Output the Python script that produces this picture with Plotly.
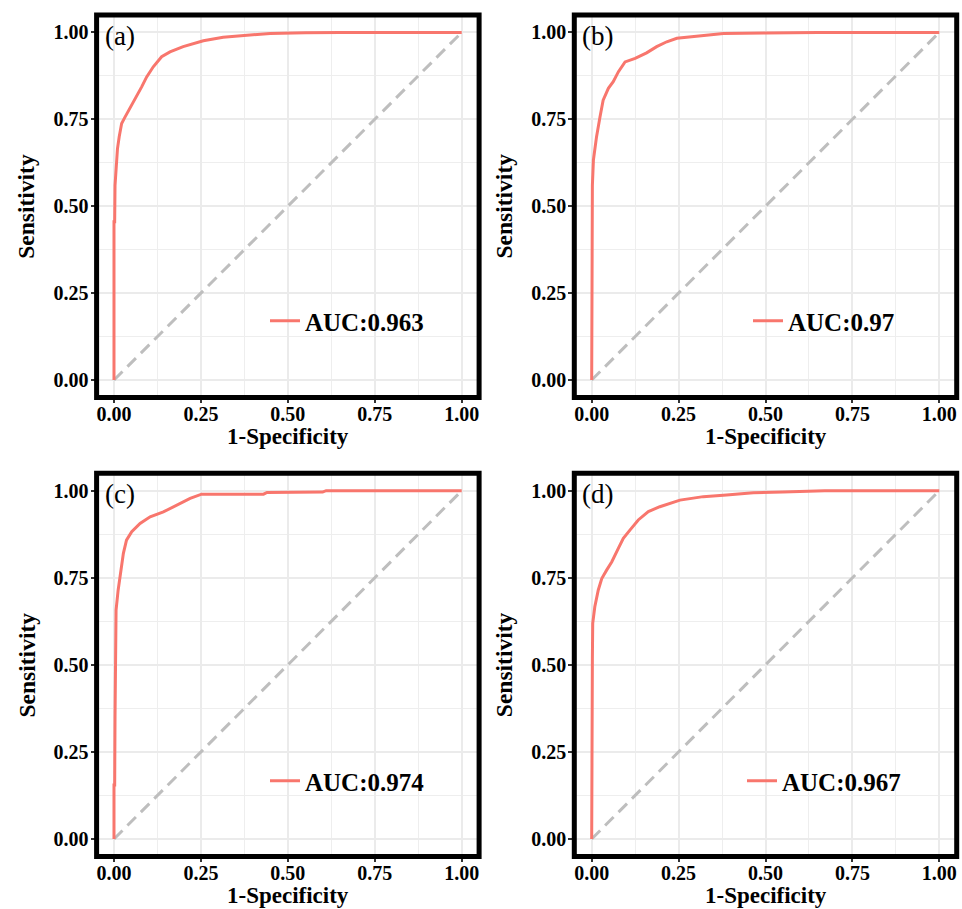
import plotly.graph_objects as go

W, H = 962, 909

panel_labels = ["(a)", "(b)", "(c)", "(d)"]
auc_labels = ["AUC:0.963", "AUC:0.97", "AUC:0.974", "AUC:0.967"]

# ROC curves (x = 1-Specificity, y = Sensitivity)
fpr_a = [0, 0, 0.002, 0.003, 0.006, 0.010, 0.015, 0.022, 0.032, 0.045, 0.056, 0.068, 0.080, 0.094, 0.113,
         0.137, 0.161, 0.199, 0.257, 0.314, 0.372, 0.449, 0.55, 0.65, 1.0]
tpr_a = [0, 0.455, 0.455, 0.56, 0.62, 0.665, 0.700, 0.738, 0.757, 0.780, 0.800, 0.822, 0.844, 0.872, 0.901,
         0.930, 0.944, 0.959, 0.976, 0.986, 0.991, 0.997, 0.999, 1.0, 1.0]

fpr_b = [0, 0, 0.002, 0.005, 0.014, 0.024, 0.033, 0.048, 0.062, 0.077, 0.096, 0.125, 0.158, 0.187,
         0.216, 0.245, 0.283, 0.340, 0.379, 0.50, 0.65, 1.0]
tpr_b = [0, 0.50, 0.56, 0.633, 0.700, 0.757, 0.805, 0.839, 0.858, 0.887, 0.915, 0.925, 0.941, 0.959,
         0.973, 0.983, 0.987, 0.992, 0.997, 0.998, 1.0, 1.0]

fpr_c = [0, 0, 0.002, 0.003, 0.004, 0.006, 0.012, 0.019, 0.027, 0.036, 0.051, 0.075, 0.104, 0.142,
         0.180, 0.219, 0.252, 0.43, 0.44, 0.60, 0.61, 1.0]
tpr_c = [0, 0.155, 0.155, 0.35, 0.50, 0.657, 0.715, 0.772, 0.820, 0.858, 0.882, 0.906, 0.925, 0.939,
         0.959, 0.978, 0.990, 0.990, 0.995, 0.996, 1.0, 1.0]

fpr_d = [0, 0, 0.002, 0.003, 0.009, 0.019, 0.029, 0.043, 0.058, 0.077, 0.091, 0.110, 0.134, 0.163,
         0.196, 0.254, 0.321, 0.388, 0.465, 0.55, 0.67, 1.0]
tpr_d = [0, 0.47, 0.52, 0.619, 0.667, 0.715, 0.748, 0.772, 0.796, 0.835, 0.863, 0.887, 0.916, 0.940,
         0.954, 0.973, 0.983, 0.988, 0.994, 0.996, 1.0, 1.0]

curves = [(fpr_a, tpr_a), (fpr_b, tpr_b), (fpr_c, tpr_c), (fpr_d, tpr_d)]
diag = [0, 1]
tick_vals = [0, 0.25, 0.5, 0.75, 1.0]
tick_text = ["0.00", "0.25", "0.50", "0.75", "1.00"]

# pixel geometry of the four panels
px_x = [(96.6, 479.1), (574.3, 956.7), (96.6, 479.1), (574.3, 956.7)]
px_y = [(15.0, 397.4), (15.0, 397.4), (473.3, 856.4), (473.3, 856.4)]
legend_px = [(265, 321), (748, 321), (265, 781), (742, 781)]

RED = "#F8766D"
FONT = "Liberation Serif"

fig = go.Figure()
layout = dict(width=W, height=H, margin=dict(l=0, r=0, t=0, b=0),
              paper_bgcolor="white", plot_bgcolor="white", showlegend=True,
              shapes=[], annotations=[])

def fx_(p):
    return p / W

def fy_(p):
    return 1 - p / H

for i in range(4):
    sfx = "" if i == 0 else str(i + 1)
    xa, ya = "x" + sfx, "y" + sfx
    lg = "legend" + sfx
    cxv, cyv = curves[i]
    fig.add_trace(go.Scatter(x=diag, y=diag, mode="lines", xaxis=xa, yaxis=ya,
                             line=dict(color="#BEBEBE", width=3, dash="12px,7px"),
                             showlegend=False, hoverinfo="skip"))
    fig.add_trace(go.Scatter(x=cxv, y=cyv, mode="lines", xaxis=xa, yaxis=ya,
                             line=dict(color=RED, width=3), name=auc_labels[i],
                             legend=lg, showlegend=True))
    x0, x1 = px_x[i]
    y0, y1 = px_y[i]
    axis_common = dict(range=[-0.05, 1.05], tickvals=tick_vals, ticktext=tick_text,
                       showgrid=True, gridcolor="#EBEBEB", gridwidth=1.5,
                       minor=dict(showgrid=True, gridcolor="#EEEEEE", gridwidth=0.9,
                                  tickvals=[0.125, 0.375, 0.625, 0.875]),
                       zeroline=False, ticks="outside", ticklen=5, tickwidth=1.5,
                       tickcolor="#333333", showline=False, automargin=False,
                       tickfont=dict(family=FONT, size=20, color="black", weight="bold"))
    layout["xaxis" + sfx] = dict(axis_common, domain=[fx_(x0), fx_(x1)], anchor=ya,
                                 ticklabelstandoff=-6)
    layout["yaxis" + sfx] = dict(axis_common, domain=[fy_(y1), fy_(y0)], anchor=xa,
                                 ticklabelstandoff=-2)
    layout["shapes"].append(dict(type="rect", xref=xa + " domain", yref=ya + " domain",
                                 x0=0, x1=1, y0=0, y1=1, line=dict(color="black", width=5),
                                 layer="above"))
    lx, ly = legend_px[i]
    layout[lg] = dict(x=fx_(lx), y=fy_(ly), xanchor="left", yanchor="middle",
                      xref="paper", yref="paper", bgcolor="rgba(0,0,0,0)", borderwidth=0,
                      font=dict(family=FONT, size=25, color="black", weight="bold"))
    # panel label
    layout["annotations"].append(dict(text=panel_labels[i], xref="paper", yref="paper",
                                      x=fx_(x0 + 6), y=fy_(y0 + 21), xanchor="left",
                                      yanchor="middle", showarrow=False,
                                      font=dict(family=FONT, size=27, color="black")))
    # axis titles
    cx = (x0 + x1) / 2
    cy = (y0 + y1) / 2
    layout["annotations"].append(dict(text="1-Specificity", xref="paper", yref="paper",
                                      x=fx_(cx), y=fy_(y1 + 39), xanchor="center",
                                      yanchor="middle", showarrow=False,
                                      font=dict(family=FONT, size=23, color="black", weight="bold")))
    layout["annotations"].append(dict(text="Sensitivity", xref="paper", yref="paper",
                                      x=fx_(x0 - 70), y=fy_(cy), xanchor="center",
                                      yanchor="middle", showarrow=False, textangle=-90,
                                      font=dict(family=FONT, size=23.5, color="black", weight="bold")))

fig.update_layout(**layout)
fig.write_html("out.html",
               config={"displayModeBar": False},
               post_script="document.documentElement.style.margin='0';"
                           "document.body.style.margin='0';"
                           "document.documentElement.style.overflow='hidden';"
                           "document.body.style.overflow='hidden';")
